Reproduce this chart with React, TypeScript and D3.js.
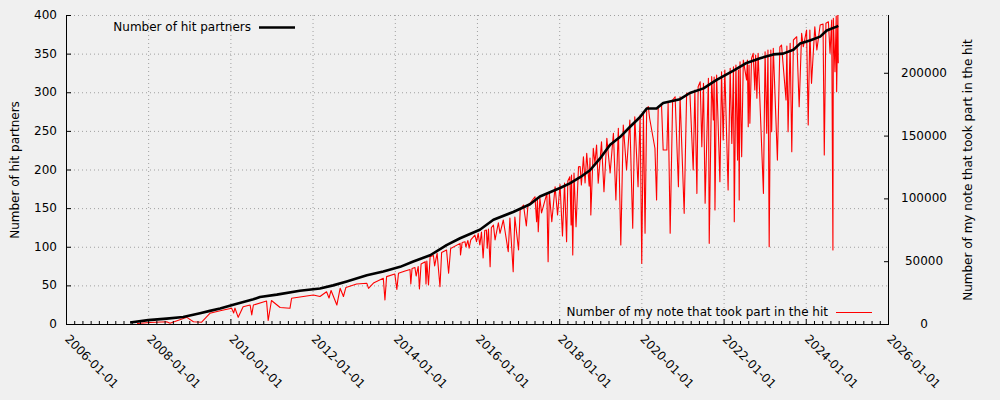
import React from 'react';
import * as d3 from 'd3';

// ---------- data ----------
const X_TICK_LABELS = ['2006-01-01','2008-01-01','2010-01-01','2012-01-01','2014-01-01','2016-01-01','2018-01-01','2020-01-01','2022-01-01','2024-01-01','2026-01-01'];
const LEFT_TICKS = [0, 50, 100, 150, 200, 250, 300, 350, 400];
const RIGHT_TICKS = [0, 50000, 100000, 150000, 200000];

// Number of hit partners (decimal year, count)
const partnerYears = [2007.56,2008.00,2008.45,2008.85,2009.26,2009.50,2009.75,2010.07,2010.56,2010.72,2011.13,2011.69,2012.18,2012.50,2012.83,2013.32,2013.72,2014.13,2014.45,2014.86,2015.26,2015.59,2016.07,2016.40,2016.88,2017.29,2017.53,2018.02,2018.26,2018.51,2018.75,2018.99,2019.24,2019.48,2019.72,2019.97,2020.13,2020.37,2020.53,2020.94,2021.18,2021.51,2021.83,2022.24,2022.56,2022.89,2023.21,2023.45,2023.70,2023.86,2024.10,2024.35,2024.51,2024.75,2024.79];
const partnerValues = [2,5,7,9,14,17,20,25,32,35,38,43,46,50,55,63,68,74,81,89,102,111,122,135,145,155,165,176,182,190,199,214,232,242,255,268,279,279,286,291,299,305,316,328,338,344,349,350,355,363,367,372,380,385,386];

// Number of my note that took part in the hit (decimal year, notes)
const noteYears = [2007.73,2008.04,2008.45,2008.53,2008.94,2009.10,2009.30,2009.50,2009.75,2010.03,2010.08,2010.11,2010.19,2010.31,2010.48,2010.52,2010.56,2010.88,2010.92,2011.00,2011.21,2011.45,2011.49,2012.02,2012.18,2012.34,2012.40,2012.45,2012.59,2012.67,2012.75,2012.81,2013.07,2013.32,2013.36,2013.48,2013.72,2013.76,2013.80,2014.00,2014.05,
2014.09,2014.25,2014.37,2014.39,2014.42,2014.49,2014.52,2014.57,2014.60,2014.64,2014.74,2014.76,2014.78,2014.82,2014.86,2014.94,2014.97,2015.03,2015.10,2015.14,2015.26,2015.31,2015.36,2015.59,2015.60,2015.64,2015.71,2015.73,2015.78,2015.81,2015.85,2015.95,2015.99,
2016.03,2016.07,2016.11,2016.15,2016.19,2016.23,2016.25,2016.28,2016.32,2016.35,2016.40,2016.44,2016.52,2016.56,2016.64,2016.76,2016.80,2016.88,2016.92,2017.01,2017.05,2017.13,2017.20,2017.24,2017.29,2017.41,2017.45,2017.47,2017.49,2017.53,2017.57,2017.70,2017.73,2017.76,2017.82,2017.90,2017.96,
2018.02,2018.08,2018.13,2018.18,2018.21,2018.26,2018.29,2018.30,2018.33,2018.36,2018.41,2018.47,2018.51,2018.54,2018.59,2018.63,2018.67,2018.73,2018.75,2018.77,2018.83,2018.87,2018.91,2018.95,2019.03,2019.09,2019.16,2019.24,2019.32,2019.38,2019.44,2019.50,2019.56,2019.64,2019.72,2019.79,2019.84,2019.92,2019.97,
2020.01,2020.05,2020.09,2020.13,2020.17,2020.20,2020.33,2020.37,2020.41,2020.49,2020.53,2020.62,2020.65,2020.70,2020.76,2020.82,2020.90,2020.94,2021.04,2021.10,2021.18,2021.26,2021.30,2021.35,2021.38,2021.43,2021.47,2021.51,2021.55,2021.63,2021.65,2021.71,2021.75,2021.77,2021.79,2021.83,2021.91,2021.95,2021.99,
2022.03,2022.11,2022.16,2022.20,2022.24,2022.26,2022.30,2022.34,2022.36,2022.38,2022.40,2022.44,2022.48,2022.56,2022.58,2022.60,2022.62,2022.64,2022.68,2022.72,2022.76,2022.78,2022.81,2022.84,2022.97,2023.01,2023.05,2023.08,2023.11,2023.15,2023.17,2023.21,2023.31,2023.37,2023.41,2023.52,2023.54,2023.57,2023.62,2023.66,2023.70,2023.78,2023.84,2023.90,2023.94,
2024.02,2024.06,2024.10,2024.14,2024.22,2024.27,2024.35,2024.42,2024.45,2024.49,2024.55,2024.59,2024.63,2024.66,2024.67,2024.71,2024.74,2024.75,2024.78,2024.79];
const noteValues = [400,1200,1800,600,5300,1800,1400,8500,10600,12500,8800,12700,5300,13800,15100,7200,15100,18300,2800,18700,13100,12500,20500,23100,21900,25700,20700,26700,15100,28400,21900,29100,31800,32400,28400,32600,36400,19100,37700,39800,27600,
40400,42200,43400,31800,44200,45000,38200,45800,27900,47800,49600,31800,50100,31000,53600,54500,46200,56300,29700,56900,58900,40400,60100,64200,54900,64900,65500,61300,66500,60300,66900,70800,65500,
72200,62900,73200,52500,74400,74800,60300,75600,45600,76800,78800,66900,80600,72200,82800,57600,84400,41600,85200,58900,90700,94700,78000,94700,96100,101300,81400,99500,73500,100300,88400,104000,49600,104300,81400,109300,86800,
111000,70000,112200,65500,113800,117300,78800,118600,54900,120200,77500,125200,125400,110600,133200,112200,135900,109800,132100,86800,139900,128200,142500,112000,145100,105300,147800,120200,151800,98700,155800,62900,158400,122600,162400,76200,165000,109300,166400,
48300,167700,72200,171700,173000,164000,139900,98700,173000,174300,138500,138500,175700,72200,178300,180900,109300,180900,88100,183600,183600,122600,186300,104000,188900,192900,141100,191600,96100,195600,64200,196900,162400,196600,90700,198200,113300,200800,146500,
202200,106700,203500,143800,204800,81400,206200,130500,202200,98700,208800,133200,210100,194200,210100,157100,206200,159800,211500,215500,186300,214100,179700,215500,104000,216800,151800,218100,61500,218100,153100,219500,130500,220700,222100,178300,221300,153100,223400,137200,226100,228700,173000,231400,220700,
234000,158400,234000,191600,236700,218100,238000,238800,134500,239400,240600,215500,242000,58900,243300,200800,245200,184900,247600,207500];

// ---------- layout ----------
const W = 1000, H = 400;
const PL = 66, PR = 888, PT = 15, PB = 324;
const FONT = '"DejaVu Sans", Verdana, sans-serif';

function decYear(y: number): Date {
  const yr = Math.floor(y);
  const s = Date.UTC(yr, 0, 1), e = Date.UTC(yr + 1, 0, 1);
  return new Date(s + (y - yr) * (e - s));
}

export default function App() {
  const xTicks = X_TICK_LABELS.map(s => new Date(s + 'T00:00:00Z'));
  const x = d3.scaleUtc().domain([xTicks[0], xTicks[xTicks.length - 1]]).range([PL, PR]);
  const yL = d3.scaleLinear().domain([0, 400]).range([PB, PT]);
  const yR = d3.scaleLinear().domain([0, 246000]).range([PB, PT]);

  const minor: Date[] = [];
  for (let i = 0; i < xTicks.length - 1; i++) {
    const a = xTicks[i].getTime(), b = xTicks[i + 1].getTime();
    for (let k = 1; k < 10; k++) minor.push(new Date(a + (b - a) * k / 10));
  }

  const partners = partnerYears.map((t, i) => [decYear(t), partnerValues[i]] as [Date, number]);
  const notes = noteYears.map((t, i) => [decYear(t), noteValues[i]] as [Date, number]);

  const lineL = d3.line<[Date, number]>().x(d => x(d[0])).y(d => yL(d[1]));
  const lineR = d3.line<[Date, number]>().x(d => x(d[0])).y(d => yR(d[1]));

  const grid = { stroke: '#a0a0a0', strokeWidth: 1, strokeDasharray: '1,3' };

  return (
    <svg width={W} height={H} style={{ position: 'absolute', left: 0, top: 0, fontFamily: FONT }}>
      <rect x={0} y={0} width={W} height={H} fill="#f0f0f0" />
      <defs>
        <clipPath id="plot"><rect x={PL} y={PT} width={PR - PL} height={PB - PT} /></clipPath>
      </defs>
      {/* grid */}
      {xTicks.map((d, i) => (
        <line key={'gx' + i} x1={x(d) + 0.5} x2={x(d) + 0.5} y1={PT} y2={PB} {...grid} />
      ))}
      {LEFT_TICKS.map((v, i) => (
        <line key={'gy' + i} x1={PL} x2={PR} y1={yL(v) + 0.5} y2={yL(v) + 0.5} {...grid} />
      ))}
      {/* series */}
      <g clipPath="url(#plot)">
        <path d={lineR(notes) || ''} fill="none" stroke="#ff0000" strokeWidth={1.1} strokeLinejoin="round" />
        <path d={lineL(partners) || ''} fill="none" stroke="#000" strokeWidth={2.6} strokeLinejoin="round" />
      </g>
      {/* axes */}
      <line x1={PL + 0.5} x2={PL + 0.5} y1={PT} y2={PB + 0.5} stroke="#000" />
      <line x1={PR + 0.5} x2={PR + 0.5} y1={PT} y2={PB + 0.5} stroke="#000" />
      <line x1={PL} x2={PR + 1} y1={PB + 0.5} y2={PB + 0.5} stroke="#000" />
      {LEFT_TICKS.map((v, i) => (
        <g key={'lt' + i}>
          <line x1={PL} x2={PL + 5} y1={yL(v) + 0.5} y2={yL(v) + 0.5} stroke="#000" />
          <text x={57} y={yL(v)} textAnchor="end" dominantBaseline="central" fontSize={12} fill="#000">{v}</text>
        </g>
      ))}
      {RIGHT_TICKS.map((v, i) => (
        <g key={'rt' + i}>
          <line x1={PR - 4} x2={PR + 1} y1={yR(v) + 0.5} y2={yR(v) + 0.5} stroke="#000" />
          <text x={924} y={yR(v)} textAnchor="middle" dominantBaseline="central" fontSize={12} fill="#000">{v}</text>
        </g>
      ))}
      {xTicks.map((d, i) => (
        <g key={'xt' + i}>
          <line x1={x(d) + 0.5} x2={x(d) + 0.5} y1={PB} y2={PB - 5} stroke="#000" />
          <text transform={`translate(${x(d) + 1},${PB + 13}) rotate(45)`} textAnchor="start" dominantBaseline="central" fontSize={12} fill="#000">{X_TICK_LABELS[i]}</text>
        </g>
      ))}
      {minor.map((d, i) => (
        <line key={'mx' + i} x1={x(d) + 0.5} x2={x(d) + 0.5} y1={PB} y2={PB - 3} stroke="#000" />
      ))}
      {/* axis titles */}
      <text transform={`translate(15,170) rotate(-90)`} textAnchor="middle" dominantBaseline="central" fontSize={12} fill="#000">Number of hit partners</text>
      <text transform={`translate(968,170) rotate(-90)`} textAnchor="middle" dominantBaseline="central" fontSize={12} fill="#000">Number of my note that took part in the hit</text>
      {/* legends */}
      <text x={251} y={27} textAnchor="end" dominantBaseline="central" fontSize={12} fill="#000">Number of hit partners</text>
      <line x1={259} x2={295} y1={27.5} y2={27.5} stroke="#000" strokeWidth={2.6} />
      <text x={828} y={312} textAnchor="end" dominantBaseline="central" fontSize={12} fill="#000">Number of my note that took part in the hit</text>
      <line x1={836} x2={872} y1={312.5} y2={312.5} stroke="#ff0000" strokeWidth={1} />
    </svg>
  );
}
